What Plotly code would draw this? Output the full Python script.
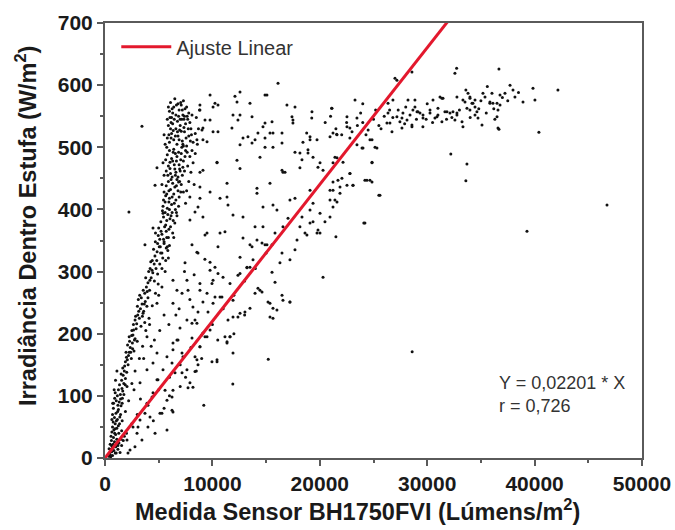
import plotly.graph_objects as go

# ---------------- data ----------------
# steep arm rising from the origin
arm_x = [350, 420, 500, 550, 620, 680, 700, 760, 820, 880, 950, 1000, 1100, 1200, 1300, 1400, 1550, 1700, 480, 600,
         560, 640, 700, 760, 820, 880, 950, 1020, 1100, 1150, 1250, 1350, 1450, 1550, 700, 780, 900,
         800, 900, 950, 1050, 1150, 1250, 1350, 1450, 1550, 1650, 1750, 1900, 2050, 1200, 1600,
         1500, 1650, 1800, 1900, 2000, 2150, 2250, 2350, 2450, 2550, 2700, 2800, 2100, 2250, 2600, 3000,
         2500, 2650, 2800, 2900, 3050, 3200, 3300, 3450, 3600, 3750, 3900, 3100, 3350, 3700, 4000,
         3700, 3850, 4000, 4150, 4300, 4450, 4600, 4750, 4900, 5100, 5300, 4400, 4650, 4850, 5050, 5300, 5500, 5700, 5900, 4200, 4950, 5600,
         380, 530, 610, 730, 790, 860, 930, 990, 1060, 1130, 1180, 1240, 1320, 1380, 1430, 1490, 1580, 1620, 1690, 1760,
         1830, 1880, 1960, 2020, 2080, 2190, 2290, 2390, 2480, 2570, 2660, 2740, 2850, 2950, 3020, 3140, 3230, 3380, 3480, 3560,
         3660, 3790, 3930, 4070, 4180, 4260, 4380, 4520, 4580, 4690, 4820, 4960, 5180, 5220, 5380, 5450, 5650, 5750, 5850, 6000,
         640, 720, 850, 980, 1110, 1040, 1280, 1600, 1900, 2200, 2500, 2800, 3200, 3500, 3800, 4100, 4400, 4700, 5000, 5300]
arm_y = [3, 8, 5, 14, 10, 18, 4, 22, 12, 26, 8, 18, 30, 14, 24, 9, 20, 28, 22, 28,
         35, 42, 50, 58, 45, 65, 55, 72, 48, 62, 78, 55, 70, 44, 70, 80, 40,
         88, 96, 105, 92, 100, 110, 118, 95, 125, 108, 120, 128, 115, 85, 88,
         135, 145, 140, 155, 162, 150, 170, 178, 160, 185, 172, 192, 182, 195, 198, 188,
         205, 215, 222, 208, 230, 225, 240, 248, 236, 252, 244, 255, 212, 218, 258,
         265, 275, 282, 270, 290, 298, 285, 305, 296, 312, 305, 318, 325, 332, 340, 330, 345, 338, 322, 305, 280, 300,
         15, 2, 20, 12, 33, 18, 47, 38, 60, 22, 75, 52, 90, 66, 102, 84, 112, 96, 133, 102,
         148, 118, 170, 138, 158, 165, 188, 170, 197, 176, 206, 190, 228, 216, 244, 236, 262, 258, 228, 270,
         248, 290, 268, 300, 286, 316, 302, 336, 312, 348, 318, 358, 330, 365, 322, 352, 318, 355, 334, 342,
         62, 88, 110, 125, 140, 8, 40, 60, 75, 92, 120, 140, 160, 180, 205, 225, 245, 265, 262, 275]

# dense vertical band
band_x = [4900, 5100, 5300, 5500, 5700, 5900, 6100, 6300, 5200, 5450, 5650, 5850, 6050, 6250, 6500, 6700, 5000, 5350, 5600, 6400, 4700, 5800,
          5400, 5600, 5800, 6000, 6200, 6400, 6600, 6800, 5500, 5700, 5900, 6100, 6300, 6500, 6700, 6900, 7100, 5300, 6000, 6150, 7300, 5650,
          5500, 5700, 5900, 6100, 6300, 6500, 6700, 6900, 7100, 7300, 7500, 5800, 6000, 6200, 6400, 6600, 6800, 7000, 7200, 7700, 7900, 5400, 6050, 6550, 7400, 8100,
          5600, 5800, 6000, 6200, 6400, 6600, 6800, 7000, 7200, 7400, 7600, 7800, 8000, 8200, 8400, 5900, 6300, 6700, 7100, 7500, 6100, 6900, 7300, 5500, 7900,
          5800, 6000, 6200, 6400, 6600, 6800, 7000, 7200, 7400, 7600, 7800, 6100, 6500, 6900, 7300, 5900, 8100, 7100, 6300, 7700,
          7600, 7800, 8000, 8200, 8400, 7500, 7900, 8300, 8600, 8700, 8500, 8800,
          5150, 5550, 5750, 5950, 6150, 6350, 6550, 6850, 5450, 5750, 5950, 6250, 6450, 6650, 6850, 7050, 5850, 6050, 6250, 6450,
          6650, 6850, 7050, 7250, 7450, 5750, 5950, 6150, 6350, 6550, 6750, 6950, 7150, 7350, 7550, 7750, 7950, 6050, 6250, 6450,
          6650, 6850, 7050, 7250, 7450, 7650, 6150, 6750, 7350, 5650, 6950, 7150, 6350, 6550, 5950, 6650, 6950, 7250, 7650, 8050]
band_y = [345, 352, 360, 348, 365, 355, 372, 362, 380, 388, 375, 392, 385, 395, 378, 390, 370, 398, 395, 355, 362, 340,
          405, 412, 402, 418, 408, 425, 415, 430, 428, 438, 445, 432, 442, 436, 448, 420, 440, 440, 400, 448, 428, 422,
          455, 462, 470, 458, 478, 465, 485, 472, 490, 478, 495, 488, 495, 482, 497, 460, 452, 462, 455, 470, 485, 475, 476, 490, 462, 495,
          505, 515, 508, 522, 512, 530, 518, 535, 510, 525, 502, 518, 530, 508, 522, 535, 538, 505, 526, 538, 530, 512, 502, 520, 540,
          545, 558, 548, 565, 552, 570, 545, 560, 550, 565, 555, 572, 578, 560, 575, 565, 552, 568, 555, 545,
          430, 445, 460, 475, 490, 410, 420, 440, 505, 530, 548, 560,
          340, 372, 382, 368, 390, 382, 400, 405, 415, 425, 412, 420, 410, 438, 444, 428, 455, 466, 452, 472,
          478, 492, 480, 468, 485, 500, 520, 515, 527, 518, 542, 528, 545, 532, 515, 530, 510, 548, 562, 545,
          568, 550, 572, 552, 562, 550, 540, 525, 545, 480, 465, 500, 492, 455, 430, 395, 445, 505, 492, 520]

# region between the steep arm and the fitted line
mid_x = [2050, 2330, 2610, 2980, 3260, 3910, 4190, 3260, 3910, 4470, 4840, 5770, 6330, 7260, 7630, 7170, 7910, 8190, 6330, 6240,
         4470, 4840, 5400, 5770, 5120, 5770, 6330, 7730, 3540, 3910, 4840, 6330, 7170, 6700, 6330, 6980, 7630, 8100, 8560, 8840,
         9500, 10060, 10710, 10060, 9780, 11920, 11640, 11920, 12570, 13500, 14430, 15360, 16010, 15640, 16570, 17220, 8190, 8560, 9120, 6330,
         6700, 7450, 7630, 8840, 9500, 11640, 12570, 13220, 11920, 10430, 11360,
         8100, 8660, 9780, 10240, 10520, 10990, 9960, 9120, 10240, 10890, 9590, 8660, 8380, 8100, 9780, 9310, 8840, 8380, 8660, 8380,
         9960, 10430, 11170, 11640, 11360, 11450, 12380, 13030, 13500, 14240, 14620, 13970, 12380, 13220, 13690, 14620, 15550, 16480, 17220, 17690,
         15550, 15830, 16480, 17220, 15180, 15640, 15360, 8840, 7730, 8560,
         4660, 4000, 5300, 6240, 5590, 4930, 4380, 3720, 3440, 2790, 2140, 3070, 6520, 6240, 7170, 6800,
         3000, 4000, 5000, 6000, 7000, 8000, 9000, 10000, 11000, 12000, 13000, 14000, 15000,
         4500, 6000, 7500, 9000, 10500, 12000, 13000, 5500, 7000, 8500, 1500, 2000, 2500, 1200, 1800,
         5100, 5500, 6900, 7400, 4300, 3600, 2700, 4150, 5950, 6600, 7900, 8300, 9300, 3300, 4600]
mid_y = [29, 13, 50, 40, 61, 88, 66, 121, 142, 153, 169, 163, 185, 163, 142, 137, 121, 114, 109, 77,
         105, 126, 142, 93, 72, 45, 74, 113, 233, 195, 249, 286, 265, 190, 174, 209, 222, 193, 158, 179,
         195, 249, 259, 286, 302, 254, 195, 227, 233, 307, 270, 249, 238, 225, 254, 251, 243, 217, 201, 249,
         270, 314, 286, 270, 265, 281, 297, 307, 169, 158, 185,
         343, 330, 315, 307, 297, 291, 281, 251, 259, 259, 235, 235, 222, 217, 206, 195, 179, 163, 150, 139,
         155, 155, 195, 195, 187, 222, 227, 235, 241, 273, 267, 265, 294, 306, 340, 346, 343, 330, 319, 335,
         299, 283, 262, 251, 251, 241, 227, 281, 270, 331,
         40, 50, 72, 98, 109, 126, 98, 72, 29, 18, 8, 50, 137, 153, 169, 190,
         70, 85, 110, 130, 150, 178, 198, 215, 240, 262, 285, 305, 330,
         60, 100, 130, 160, 190, 200, 230, 80, 115, 140, 30, 40, 55, 20, 35,
         205, 230, 240, 300, 180, 160, 110, 215, 215, 230, 255, 295, 320, 95, 190]

# upper scattered cloud
upper_x = [9780, 12100, 12570, 14900, 16110, 8840, 10240, 10520, 12290, 13500, 17690, 16940, 9780, 9310, 11920, 12380, 13690, 14900, 15550, 17410,
           17500, 9030, 10520, 11820, 14240, 15640, 16480, 12850, 13970, 14900, 13690, 12570, 14900, 15640, 16480, 17690, 9120, 9500, 10430, 12290,
           12570, 9120, 8840, 16480, 16760, 14150, 15360, 10710, 11360, 9780, 8840, 11450, 8660, 11920, 12850, 15640, 14710, 9120, 7910, 11170,
           13970, 14710, 12850, 14150, 15830, 9310, 17690, 17040, 10520, 14900, 13500,
           10060, 8840, 9120, 8560, 10060, 12570, 13310, 14710, 15360, 17500, 19090, 19740, 18900, 21230, 18340, 10430, 14430, 16570, 17220, 19090,
           11360, 14150, 16010, 16570, 18150, 17880, 20020, 9500, 10710, 15080, 13780, 12570, 16290, 8380, 8840, 19270, 21130, 15080,
           19250, 21100, 23280, 24000, 22800, 21570, 22040, 18780, 19090, 18430, 18150, 19370, 18900, 19830, 20300, 21600, 21230, 23460, 23930, 24860,
           25320, 24860, 24670, 24200, 25600, 22800, 22060, 21880, 21230, 20950, 21600, 21230, 19370, 19090, 20020, 19370, 20480, 19830, 18800, 24200,
           19090, 20950, 23090, 18620, 19740, 18340, 20020, 18150,
           22530, 23460, 20950, 21600, 22530, 21410, 22160, 22810, 21690, 22530, 23090, 21230, 20950, 21410, 21880, 24020, 25140, 24670, 24860, 24390,
           24860, 25500, 24100, 21500]
upper_y = [584, 582, 589, 584, 603, 568, 571, 568, 573, 571, 565, 568, 544, 544, 552, 544, 549, 539, 541, 549,
           539, 528, 525, 531, 523, 523, 523, 515, 512, 515, 507, 504, 500, 500, 507, 492, 512, 509, 476, 479,
           466, 463, 460, 463, 460, 434, 442, 418, 420, 428, 418, 407, 404, 391, 388, 407, 404, 388, 383, 364,
           372, 372, 354, 351, 362, 359, 418, 386, 340, 343, 343,
           565, 560, 531, 512, 525, 552, 517, 533, 523, 544, 517, 512, 491, 523, 480, 475, 484, 460, 415, 431,
           442, 426, 399, 372, 372, 351, 362, 362, 362, 343, 319, 323, 314, 396, 436, 557, 563, 584,
           547, 563, 576, 570, 531, 521, 520, 523, 512, 508, 491, 484, 496, 468, 463, 483, 475, 504, 499, 512,
           499, 476, 447, 447, 423, 458, 450, 436, 431, 415, 412, 404, 410, 399, 394, 380, 380, 367, 359, 378,
           378, 388, 439, 362, 362, 388, 475, 467,
           549, 547, 517, 520, 533, 484, 476, 458, 447, 439, 439, 444, 431, 415, 426, 499, 500, 512, 475, 447,
           444, 423, 378, 356]

# saturation plateau
plateau_x = [26530, 26350, 27460, 27650, 27740, 28580, 28860, 29140, 28860, 29610, 30260, 30910, 31370, 31840, 32770, 32770, 33330, 33980, 34260, 35190,
             35840, 36590, 33330, 28400, 26720, 28580, 27000, 28210, 26350, 27180, 27650, 28120, 28670, 29050, 26810, 26250, 28580, 27180,
             32740, 36680, 32580, 29330, 29610, 30260, 30540, 31190, 31470, 31000, 30720, 31370, 31650, 32120, 32400, 32770, 32580, 33240, 33520, 33800,
             33980, 34170, 34450, 34450, 34630, 34450, 34730, 35100, 33980, 33700, 35380, 36030, 35840, 36120, 36500, 36780, 36590, 36500, 36780, 37240,
             37710, 37990, 38170, 38920, 39850, 40030, 42170, 36680, 29600,
             23000, 23500, 24000, 24500, 25000, 25500, 26000, 22500, 21500, 23800, 25200, 26800, 27300, 27900, 29900, 30500, 31800, 32300, 33000, 34800,
             35500, 36200, 37500, 38500, 35000, 34000, 31000, 30000, 29000, 28000, 25700, 22800, 24300, 20500, 21000, 26500, 33600, 35600, 37000, 36300]
plateau_y = [539, 555, 541, 531, 555, 533, 565, 557, 576, 552, 555, 549, 579, 557, 555, 581, 576, 581, 571, 587,
             571, 531, 533, 552, 525, 621, 611, 576, 571, 549, 547, 544, 560, 557, 576, 539, 536, 608,
             627, 626, 619, 555, 547, 560, 576, 581, 579, 563, 547, 541, 557, 555, 557, 552, 544, 541, 573, 587,
             579, 571, 576, 565, 557, 552, 547, 536, 560, 563, 581, 587, 573, 571, 571, 568, 560, 549, 584, 587,
             600, 592, 581, 573, 595, 576, 592, 529, 533,
             525, 535, 540, 528, 545, 535, 550, 540, 530, 555, 560, 548, 560, 538, 545, 540, 545, 548, 560, 562,
             555, 562, 575, 588, 575, 548, 552, 570, 545, 565, 530, 515, 520, 540, 550, 560, 592, 598, 580, 545]

# isolated points
outlier_x = [46740, 39290, 40400, 32200, 33700, 33600, 28600, 20300, 11900, 9200, 15200, 2230, 3440, 4840, 4660, 3720, 4470, 5400]
outlier_y = [407, 365, 524, 489, 473, 446, 171, 291, 119, 85, 159, 396, 534, 467, 439, 343, 370, 394]

# linear fit through the origin
fit_slope = 0.02201
fit_r = 0.726
x_range = [0, 50000]
y_range = [0, 700]

x_title = "Medida Sensor BH1750FVI (Lúmens/m<sup>2</sup>)"
y_title = "Irradiância Dentro Estufa (W/m<sup>2</sup>)"
legend_label = "Ajuste Linear"

all_x = arm_x + band_x + mid_x + upper_x + plateau_x + outlier_x
all_y = arm_y + band_y + mid_y + upper_y + plateau_y + outlier_y

fit_x = x_range
fit_y = [fit_slope * v for v in fit_x]

FONT = "Liberation Sans, Arial, sans-serif"
W, H = 675, 530
ML, MR, MT, MB = 105, 33, 23, 72

fig = go.Figure()
fig.add_trace(go.Scatter(
    x=all_x, y=all_y, mode="markers",
    marker=dict(color="#111111", size=3, line=dict(width=0)),
    showlegend=False, hoverinfo="skip", cliponaxis=True,
))
fig.add_trace(go.Scatter(
    x=fit_x, y=fit_y, mode="lines",
    line=dict(color="#e3182d", width=3),
    name=legend_label,
))

axis_common = dict(
    showline=True, mirror=True, linecolor="#5a5a5a", linewidth=2,
    ticks="outside", ticklen=6, tickwidth=1.5, tickcolor="#5a5a5a",
    showgrid=False, zeroline=False, automargin=False,
    tickfont=dict(family=FONT, size=21, color="#1a1a1a", weight="bold"),
)

fig.update_xaxes(
    range=x_range, dtick=10000, tick0=0, tickformat="d",
    minor=dict(dtick=5000, ticks="outside", ticklen=3, tickcolor="#5a5a5a"),
    **axis_common,
)
fig.update_yaxes(
    range=y_range, dtick=100, tick0=0, tickformat="d",
    minor=dict(dtick=50, ticks="outside", ticklen=3, tickcolor="#5a5a5a"),
    **axis_common,
)

pw = W - ML - MR
ph = H - MT - MB
title_font = dict(family=FONT, size=23.5, color="#1a1a1a", weight="bold")
# x-axis title (centred a little left of the plot centre, as in the reference)
fig.add_annotation(
    x=(357 - ML) / pw, y=-(510 - (H - MB)) / ph, xref="paper", yref="paper",
    xanchor="center", yanchor="middle", text=x_title, showarrow=False,
    font=title_font,
)
# y-axis title
fig.add_annotation(
    x=-(ML - 26) / pw, y=(H - MB - 226) / ph, xref="paper", yref="paper",
    xanchor="center", yanchor="middle", text=y_title, showarrow=False,
    textangle=-90, font=title_font,
)

fig.add_annotation(
    x=36500, y=102, xref="x", yref="y", xanchor="left", yanchor="middle",
    text="Y = " + f"{fit_slope:.5f}".replace(".", ",") + " * X<br>r = " + f"{fit_r:.3f}".replace(".", ","),
    showarrow=False, align="left",
    font=dict(family=FONT, size=18, color="#333333"),
)

fig.update_layout(
    width=W, height=H,
    margin=dict(l=ML, r=MR, t=MT, b=MB, autoexpand=False),
    paper_bgcolor="white", plot_bgcolor="white",
    legend=dict(x=0.021, y=0.99, xanchor="left", yanchor="top",
                bgcolor="rgba(0,0,0,0)", itemwidth=50,
                font=dict(family=FONT, size=20, color="#333333")),
)

fig.write_html("out.html")
